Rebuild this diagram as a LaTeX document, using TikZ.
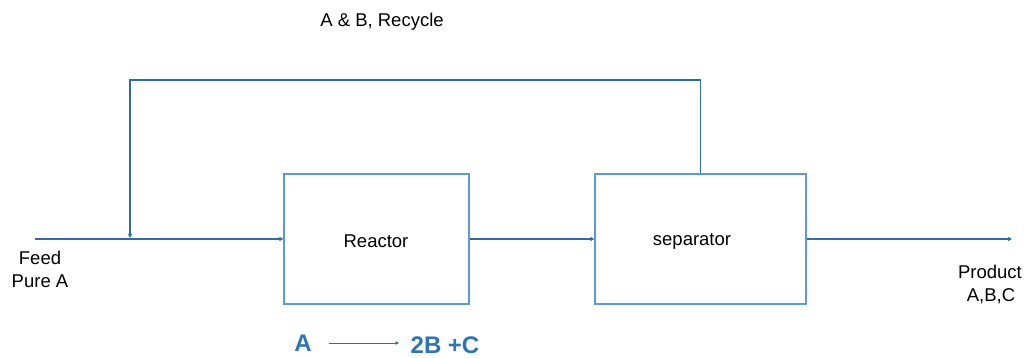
\documentclass[tikz,border=0pt]{standalone}
\usepackage{fontspec}
\setmainfont{Liberation Sans}
\usetikzlibrary{arrows.meta}
\definecolor{flow}{HTML}{2E6DA4}
\definecolor{boxc}{HTML}{5B9BD5}
\definecolor{rxn}{HTML}{2E75B6}
\tikzset{
  unitbox/.style={draw=boxc, line width=1.3pt, minimum width=#1, minimum height=130pt, inner sep=0pt},
  flowline/.style={draw=flow, line width=1.4pt, -{Triangle[length=4pt,width=4pt]}},
  lbl/.style={font=\fontsize{18.5}{22}\selectfont, inner sep=0pt, align=center},
  rxtxt/.style={font=\fontsize{24}{28}\selectfont\bfseries, text=rxn, inner sep=0pt}
}
\begin{document}
\begin{tikzpicture}[x=1pt,y=-1pt]
\useasboundingbox (0,0) rectangle (1028,358);
\node[unitbox=185pt] (reactor) at (376.5,239) {};
\node[unitbox=211pt] (sep) at (700.5,239) {};
\node[lbl] (reactortxt) at (376,241) {Reactor};
\node[lbl] (septxt) at (692,241) {separator};
\node[lbl] (recytxt) at (382,22) {A \& B, Recycle};
\node[lbl] (feedtxt) at (40,258) {Feed};
\node[lbl] (puretxt) at (40,281) {Pure A};
\node[lbl] (prodtxt) at (990,272) {Product};
\node[lbl] (abctxt) at (991,296) {A,B,C};
\coordinate (feedstart) at (35,239);
\coordinate (junction) at (130,239);
\coordinate (prodend) at (1012,239);
\coordinate (topleft) at (130,80);
\draw[flowline] (feedstart) -- (reactor.west);
\draw[flowline] (reactor.east) -- (sep.west);
\draw[flowline] (sep.east) -- (prodend);
\draw[flowline, shorten >=1pt] (sep.north) |- (topleft) -- (junction);
\node[rxtxt] (ra) at (303,343) {A};
\node[rxtxt] (rprod) at (445,345) {2B +C};
\draw[draw=flow, line width=1pt, -{Triangle[length=3.5pt,width=3.5pt]}] (329,343) -- (399,343);
\end{tikzpicture}
\end{document}
